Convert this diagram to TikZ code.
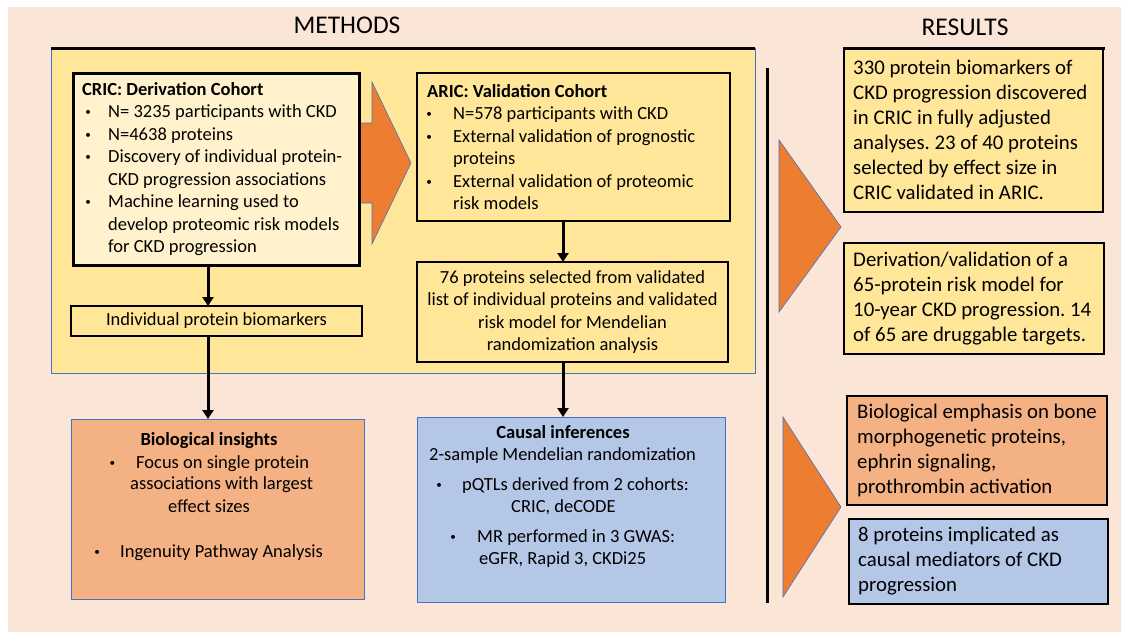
\documentclass[tikz,border=0pt]{standalone}
\usepackage{fontspec}
\setmainfont{Carlito}
\usetikzlibrary{arrows.meta}
\definecolor{peach}{HTML}{FBE5D6}
\definecolor{gold}{HTML}{FFE699}
\definecolor{cream}{HTML}{FFF2CC}
\definecolor{orng}{HTML}{ED7D31}
\definecolor{lorng}{HTML}{F4B183}
\definecolor{lblue}{HTML}{B4C7E7}
\definecolor{bborder}{HTML}{4472C4}
\newcommand{\smbul}{\raisebox{2pt}{\scalebox{0.6}{\textbullet}}}
\newcommand{\blt}[2][0pt]{\makebox[26pt][l]{\hspace*{#1}\smbul}#2}
\newcommand{\cnt}[1]{\hspace*{26pt}#1}
\frenchspacing
\begin{document}
\begin{tikzpicture}[x=1pt,y=-1pt,
  box/.style={draw, rectangle, inner sep=0pt, outer sep=0pt},
  txt/.style={inner sep=0pt, font=\fontsize{18.5}{22.5}\selectfont},
  restxt/.style={inner sep=0pt, align=left, font=\fontsize{20.8}{25}\selectfont},
  head/.style={inner sep=0pt, font=\fontsize{25.5}{30}\selectfont},
  arr/.style={line width=3pt, -{Triangle[width=11pt,length=9pt]}},
  orshape/.style={fill=orng, draw=bborder, line width=0.6pt},
]
\useasboundingbox (0,0) rectangle (1121,632);
\fill[white] (0,0) rectangle (1121,632);
\fill[peach] (8,7) rectangle (1121,632);

% headings
\node[head] (methods) at (347,25) {METHODS};
\node[head] (results) at (965,27) {RESULTS};

% methods background box
\node[box, draw=bborder, line width=0.8pt, fill=gold, minimum width=704pt, minimum height=325pt] (methbox) at (403,210.5) {};
\draw[line width=3pt] (methbox.north west) -- (methbox.north east);

% big orange arrow
\filldraw[orshape] (345,123) -- (372,123) -- (372,82) -- (411,163) -- (372,244) -- (372,203) -- (345,203) -- cycle;

% CRIC box
\node[box, line width=3pt, fill=cream, minimum width=286pt, minimum height=192pt] (cric) at (216,169) {};
\node[txt, align=left, anchor=west] (crictext) at ([xshift=9pt]cric.west) {%
\textbf{CRIC: Derivation Cohort}\\
\blt[3.2pt]{N= 3235 participants with CKD}\\
\blt[3.2pt]{N=4638 proteins}\\
\blt[3.2pt]{Discovery of individual protein-}\\
\cnt{CKD progression associations}\\
\blt[3.2pt]{Machine learning used to}\\
\cnt{develop proteomic risk models}\\
\cnt{for CKD progression}};

% ARIC box
\node[box, line width=2pt, fill=gold, minimum width=313pt, minimum height=148pt] (aric) at (573.5,147) {};
\node[txt, align=left, anchor=west] (arictext) at ([xshift=10pt]aric.west) {%
\textbf{ARIC: Validation Cohort}\\
\blt[-0.8pt]{N=578 participants with CKD}\\
\blt[-0.8pt]{External validation of prognostic}\\
\cnt{proteins}\\
\blt[-0.8pt]{External validation of proteomic}\\
\cnt{risk models}};

% 76 proteins box
\node[box, line width=2pt, fill=gold, minimum width=311pt, minimum height=100pt, txt, align=center] (sel) at (572.5,312) {%
76 proteins selected from validated\\
list of individual proteins and validated\\
risk model for Mendelian\\
randomization analysis};

% individual protein biomarkers
\node[box, line width=2pt, fill=gold, minimum width=291pt, minimum height=30pt, txt] (indiv) at (216.5,321) {Individual protein biomarkers};

% Biological insights
\node[box, draw=bborder, line width=0.8pt, fill=lorng, minimum width=293pt, minimum height=180pt] (bio) at (217.5,509) {};
\node[txt, anchor=mid] (biot) at (209,443) {\textbf{Biological insights}};
\node[txt, anchor=mid west] (bio1) at (109.3,466) {\makebox[26.7pt][l]{\smbul}Focus on single protein};
\node[txt, anchor=mid west] (bio2) at (130,487) {associations with largest};
\node[txt, anchor=mid west] (bio3) at (168,510) {effect sizes};
\node[txt, anchor=mid west] (bio4) at (94.2,555) {\makebox[25.8pt][l]{\smbul}Ingenuity Pathway Analysis};

% Causal inferences
\node[box, draw=bborder, line width=0.8pt, fill=lblue, minimum width=308pt, minimum height=185pt] (causal) at (571,509.5) {};
\node[txt, anchor=mid] (caust) at (563,436) {\textbf{Causal inferences}};
\node[txt, anchor=mid west] (c1) at (429,458) {2-sample Mendelian randomization};
\node[txt, anchor=mid west] (c2) at (436.2,488) {\makebox[25.8pt][l]{\smbul}pQTLs derived from 2 cohorts:};
\node[txt, anchor=mid west] (c3) at (511,510) {CRIC, deCODE};
\node[txt, anchor=mid west] (c4) at (450.2,540) {\makebox[26.8pt][l]{\smbul}MR performed in 3 GWAS:};
\node[txt, anchor=mid west] (c5) at (479,562) {eGFR, Rapid 3, CKDi25};

% arrows
\draw[arr] ([xshift=-8pt]cric.south) -- ([xshift=-8.5pt]indiv.north);
\draw[arr] ([xshift=-8.5pt]indiv.south) -- ([xshift=-9.5pt]bio.north);
\draw[arr] ([xshift=-10.5pt]aric.south) -- ([xshift=-9.5pt]sel.north);
\draw[arr] ([xshift=-9.5pt]sel.south) -- ([xshift=-8pt]causal.north);

% divider
\draw[line width=3pt] (767,68) -- (767,603);

% result triangles
\filldraw[orshape] (779,140) -- (841,227) -- (779,312) -- cycle;
\filldraw[orshape] (783,417) -- (841,507) -- (783,597) -- cycle;

% results boxes
\node[box, line width=1.2pt, fill=gold, minimum width=259pt, minimum height=164pt] (r1) at (973.5,130) {};
\draw[line width=3pt] ([xshift=-1pt]r1.north west) -- ([xshift=2pt]r1.north east);
\node[restxt, anchor=west] (r1t) at ([xshift=9pt]r1.west) {330 protein biomarkers of\\CKD progression discovered\\in CRIC in fully adjusted\\analyses. 23 of 40 proteins\\selected by effect size in\\CRIC validated in ARIC.};

\node[box, line width=1.2pt, fill=gold, minimum width=260pt, minimum height=111pt] (r2) at (974,298.5) {};
\node[restxt, anchor=west] (r2t) at ([xshift=9pt]r2.west) {Derivation/validation of a\\65-protein risk model for\\10-year CKD progression. 14\\of 65 are druggable targets.};

\node[box, line width=1.2pt, fill=lorng, minimum width=260pt, minimum height=109pt] (r3) at (977,450.5) {};
\node[restxt, anchor=west] (r3t) at ([xshift=10pt]r3.west) {Biological emphasis on bone\\morphogenetic proteins,\\ephrin signaling,\\prothrombin activation};

\node[box, line width=1.2pt, fill=lblue, minimum width=259pt, minimum height=85pt] (r4) at (978.5,561.5) {};
\node[restxt, anchor=west] (r4t) at ([xshift=9pt]r4.west) {8 proteins implicated as\\causal mediators of CKD\\progression};
\end{tikzpicture}
\end{document}
